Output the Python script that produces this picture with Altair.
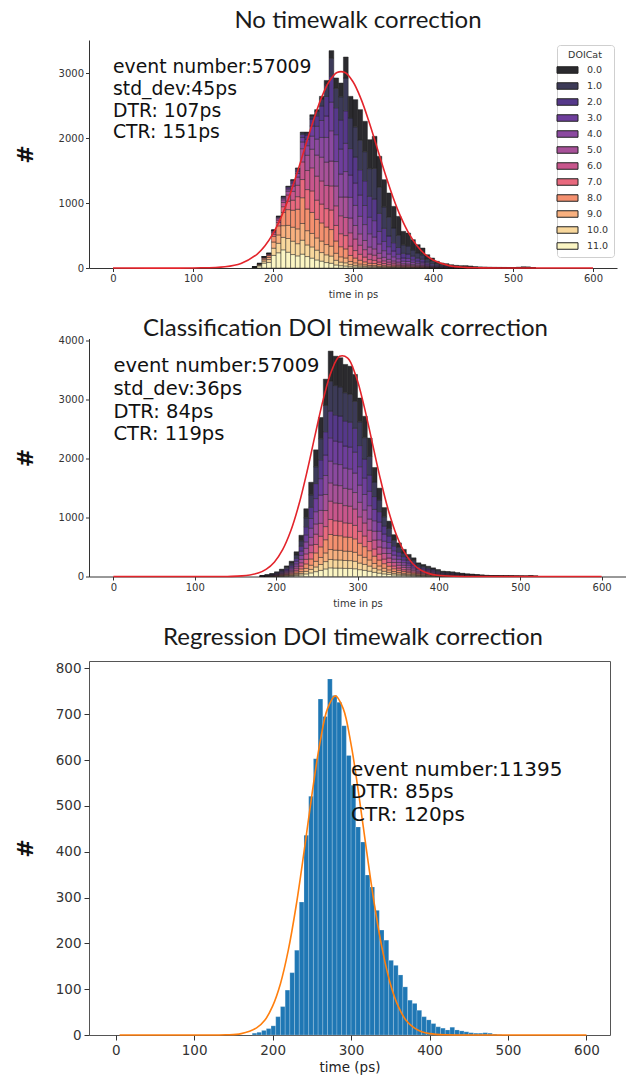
import altair as alt
import pandas as pd

BIN = 6
DOI_LABELS = ["0.0", "1.0", "2.0", "3.0", "4.0", "5.0", "6.0", "7.0", "8.0", "9.0", "10.0", "11.0"]
DOI_COLORS = ["#2b2a2e", "#3c3a58", "#55388a", "#6e3e9c", "#8b49a0", "#a85199", "#c8568c",
              "#e8697e", "#f4906f", "#f8b07f", "#f8d79c", "#fbf5c3"]
# thickness of each DOI layer in the peak bin of the corrected histogram (cat 0..11)
doi_peak_layer = [510, 509, 453, 396, 368, 311, 311, 255, 255, 169, 142, 147]
# timewalk offset of each DOI class (in bins) before correction
doi_shift_bins = [7, 5, 3, 2, 1, -1, -2, -3, -5, -6, -7, -9]

# Panel 1: no correction (bins of 6 ps starting at 174)
p1_start = 174
p1_counts = [20, 70, 175, 226, 585, 796, 1104, 1258, 1361, 1541,
             2095, 2095, 2362, 2440, 2645, 2890, 3349, 2928, 2850, 3251,
             2645, 2594, 2440, 2260, 1977, 2029, 1721, 1361, 1156, 950,
             796, 565, 539, 437, 360, 308, 205, 154, 103, 77,
             67, 51, 41, 36, 36, 31, 20, 16, 14, 12,
             11, 10, 9, 8, 7, 12, 18, 16, 3]
# Panel 2: classification correction (bins of 6 ps starting at 180)
p2_start = 180
p2_counts = [15, 30, 50, 80, 125, 180, 260, 420, 700, 1150,
             1600, 2150, 2700, 3350, 3826, 3740, 3713, 3600, 3570, 3430,
             3030, 2720, 2350, 1850, 1500, 1170, 940, 710, 570, 460,
             375, 317, 232, 204, 175, 147, 119, 91, 85, 79,
             65, 55, 45, 40, 32, 25, 20, 16, 13, 10,
             9, 8, 6, 5, 4, 8, 3]
# Panel 3: regression correction (bins of 6 ps starting at 174)
p3_start = 174
p3_counts = [4, 6, 10, 14, 20, 40, 62, 98, 136, 185,
             290, 436, 521, 603, 733, 695, 777, 741, 726, 675,
             610, 545, 454, 421, 349, 323, 272, 229, 207, 163,
             152, 131, 105, 76, 69, 54, 40, 33, 25, 18,
             15, 11, 17, 11, 9, 7, 5, 4, 4, 5,
             4, 2, 1]

# Gaussian fit curves
fit1_t = [0, 100, 140, 160, 180, 190, 200, 210, 220, 230, 240, 250, 260, 270, 280, 290,
          300, 310, 320, 330, 340, 350, 360, 370, 380, 390, 400, 420, 440, 460, 500, 600]
fit1_n = [0, 1, 19, 70, 211, 342, 529, 779, 1091, 1459, 1858, 2254, 2606, 2870, 3012, 3012,
          2870, 2606, 2254, 1858, 1459, 1091, 779, 529, 342, 211, 124, 37, 9, 2, 0, 0]
fit2_t = [0, 100, 140, 158, 178, 188, 198, 208, 218, 228, 238, 248, 258, 268, 278, 288,
          298, 308, 318, 328, 338, 348, 358, 368, 378, 388, 398, 418, 440, 600]
fit2_n = [0, 0, 1, 10, 58, 124, 247, 455, 775, 1221, 1782, 2408, 3011, 3486, 3737, 3708,
          3406, 2897, 2281, 1662, 1121, 700, 405, 217, 107, 49, 21, 3, 0, 0]
fit3_t = [5, 100, 140, 160, 180, 190, 200, 210, 220, 230, 240, 250, 260, 270, 280, 290,
          300, 310, 320, 330, 340, 350, 360, 370, 380, 390, 400, 420, 440, 600]
fit3_n = [0, 0, 0.4, 3, 16, 32, 63, 112, 185, 282, 399, 523, 634, 712, 740, 712,
          634, 523, 399, 282, 185, 112, 63, 32, 16, 7, 3, 0.4, 0, 0]

ann1_text = "event number:57009\nstd_dev:45ps\nDTR: 107ps\nCTR: 151ps"
ann2_text = "event number:57009\nstd_dev:36ps\nDTR: 84ps\nCTR: 119ps"
ann3_text = "event number:11395\nDTR: 85ps\nCTR: 120ps"
ann_x = [0, 0, 300]
ann_y = [3000, 3465, 566]

# ---------- build stacked tables ----------
share = [v / sum(doi_peak_layer) for v in doi_peak_layer]
p2_lookup = {p2_start + BIN * i: c for i, c in enumerate(p2_counts)}


def stack_rows(start, counts, weights_fn):
    rows = []
    for i, tot in enumerate(counts):
        t0 = start + BIN * i
        raw = weights_fn(t0)
        s = sum(raw)
        if s == 0:
            raw = [1] + [0] * 11
            s = 1
        cum = 0.0
        for k in reversed(range(12)):
            c = tot * raw[k] / s
            rows.append({"t0": t0, "t1": t0 + BIN, "cat": DOI_LABELS[k], "y0": cum, "y1": cum + c})
            cum += c
    return pd.DataFrame(rows)


def w_panel1(t0):
    return [share[k] * p2_lookup.get(t0 - doi_shift_bins[k] * BIN, 0) for k in range(12)]


def w_panel2(t0):
    return list(share)


df1 = stack_rows(p1_start, p1_counts, w_panel1)
df2 = stack_rows(p2_start, p2_counts, w_panel2)
df3 = pd.DataFrame({"t0": [p3_start + BIN * i for i in range(len(p3_counts))],
                    "t1": [p3_start + BIN * (i + 1) for i in range(len(p3_counts))],
                    "n": p3_counts})

XT = list(range(0, 601, 100))


def stacked_panel(df, fit_t, fit_n, text, ax, ay, ymax, yticks, width, height,
                  title, tdx, toff, legx, legy, fsize, lheight):
    xs = alt.Scale(domain=[-30, 630], nice=False, zero=False)
    ys = alt.Scale(domain=[0, ymax], nice=False)
    xaxis = alt.Axis(values=XT, format="d", title="time in ps", labelFontSize=10, labelColor="#333",
                     tickSize=3.5, tickColor="#333", domainColor="#333", domainWidth=1,
                     labelPadding=2, titleFontSize=10, titleFontWeight="normal",
                     titleColor="#333", titlePadding=6, grid=False)
    yaxis = alt.Axis(values=yticks, format="d", title="#", labelFontSize=10, labelColor="#333",
                     tickSize=3.5, tickColor="#333", domainColor="#333", domainWidth=1,
                     labelPadding=2, titleFontSize=22, titleFontWeight="bold",
                     titleColor="#111", titleAngle=270, titleX=-64, titleY=height / 2,
                     titleAlign="center", titleBaseline="middle", grid=False)
    legend = alt.Legend(orient="none", legendX=legx, legendY=legy, title="DOICat",
                        titleFont="DejaVu Sans", titleFontSize=9.5, titleFontWeight="normal",
                        titleColor="#333", titleAnchor="middle", labelFont="DejaVu Sans",
                        labelFontSize=9.5, labelColor="#333",
                        symbolType="M-2.1,-0.65H2.1V0.65H-2.1Z", symbolSize=100,
                        symbolStrokeColor="#222", symbolStrokeWidth=1, symbolOpacity=1,
                        fillColor="#ffffff", strokeColor="#cfcfcf", cornerRadius=3,
                        padding=5, rowPadding=5, labelOffset=14)
    bars = alt.Chart(df).mark_rect(stroke="#1e1e1e", strokeWidth=0.6, strokeOpacity=0.75).encode(
        x=alt.X("t0:Q", scale=xs, axis=xaxis),
        x2="t1:Q",
        y=alt.Y("y0:Q", scale=ys, axis=yaxis),
        y2="y1:Q",
        color=alt.Color("cat:N", scale=alt.Scale(domain=DOI_LABELS, range=DOI_COLORS), legend=legend),
    )
    fit = alt.Chart(pd.DataFrame({"t": fit_t, "n": fit_n})).mark_line(
        color="#e3242b", strokeWidth=1.6, interpolate="catmull-rom").encode(
        x=alt.X("t:Q", scale=xs, title="time in ps"),
        y=alt.Y("n:Q", scale=ys, title="#"),
    )
    ann = alt.Chart(pd.DataFrame({"x": [ax], "y": [ay], "text": [text]})).mark_text(
        align="left", baseline="alphabetic", font="DejaVu Sans", fontSize=fsize,
        lineBreak="\n", lineHeight=lheight, color="#111").encode(
        x=alt.X("x:Q", scale=xs, title="time in ps"),
        y=alt.Y("y:Q", scale=ys, title="#"),
        text="text:N",
    )
    return alt.layer(bars, fit, ann).properties(
        width=width, height=height,
        title=alt.TitleParams(text=title, font="Lato", fontSize=24, fontWeight="normal",
                              color="#1a1a1a", anchor="middle", frame="group",
                              offset=toff, dx=tdx, baseline="alphabetic"),
    )


p1 = stacked_panel(df1, fit1_t, fit1_n, ann1_text, ann_x[0], ann_y[0], 3513,
                   list(range(0, 3001, 500)), 528, 228, "No timewalk correction",
                   5, -12, 468, 5, 18.8, 21.7)
p2 = stacked_panel(df2, fit2_t, fit2_n, ann2_text, ann_x[1], ann_y[1], 4040,
                   list(range(0, 4001, 500)), 537, 238, "Classification DOI timewalk correction",
                   -12, -24, 476, 5, 19.5, 22.7)

# Panel 3
xs3 = alt.Scale(domain=[-34, 630], nice=False, zero=False)
ys3 = alt.Scale(domain=[0, 816], nice=False)
x3axis = alt.Axis(values=XT, format="d", title="time (ps)", labelFontSize=13.5, labelColor="#333",
                  tickSize=5, tickColor="#333", domain=False, labelPadding=3,
                  titleFontSize=13.5, titleFontWeight="normal", titleColor="#222",
                  titlePadding=4, grid=False)
y3axis = alt.Axis(values=list(range(0, 801, 100)), format="d", title="#", labelFontSize=13.5,
                  labelColor="#333", tickSize=5, tickColor="#333", domain=False,
                  labelPadding=3, titleFontSize=22, titleFontWeight="bold", titleColor="#111",
                  titleAngle=270, titleX=-64, titleY=187, titleAlign="center",
                  titleBaseline="middle", grid=False)
bars3 = alt.Chart(df3).mark_rect(color="#1f77b4", stroke="#ffffff", strokeWidth=0.4,
                                 strokeOpacity=0.5).encode(
    x=alt.X("t0:Q", scale=xs3, axis=x3axis),
    x2="t1:Q",
    y=alt.Y("n:Q", scale=ys3, axis=y3axis),
    y2=alt.datum(0),
)
fit3 = alt.Chart(pd.DataFrame({"t": fit3_t, "n": fit3_n})).mark_line(
    color="#ff7f0e", strokeWidth=1.6, interpolate="catmull-rom").encode(
    x=alt.X("t:Q", scale=xs3, title="time (ps)"),
    y=alt.Y("n:Q", scale=ys3, title="#"),
)
ann3 = alt.Chart(pd.DataFrame({"x": [ann_x[2]], "y": [ann_y[2]], "text": [ann3_text]})).mark_text(
    align="left", baseline="alphabetic", font="DejaVu Sans", fontSize=20,
    lineBreak="\n", lineHeight=22.5, color="#111").encode(
    x=alt.X("x:Q", scale=xs3, title="time (ps)"),
    y=alt.Y("y:Q", scale=ys3, title="#"),
    text="text:N",
)
p3 = alt.layer(bars3, fit3, ann3).properties(
    width=521, height=374,
    view=alt.ViewBackground(stroke="#555555", strokeWidth=1, strokeOpacity=1),
    title=alt.TitleParams(text="Regression DOI timewalk correction", font="Lato", fontSize=24,
                          fontWeight="normal", color="#1a1a1a", anchor="middle", frame="group",
                          offset=-7.5, dx=3.5, baseline="alphabetic"),
)

chart = alt.vconcat(p1, p2, p3, spacing=16.5).properties(
    padding={"left": 13, "top": 9, "right": 0, "bottom": 0},
    background="white",
).configure(font="DejaVu Sans").configure_view(strokeOpacity=0)

chart.save("out.html", embed_options={"renderer": "svg", "actions": False})
